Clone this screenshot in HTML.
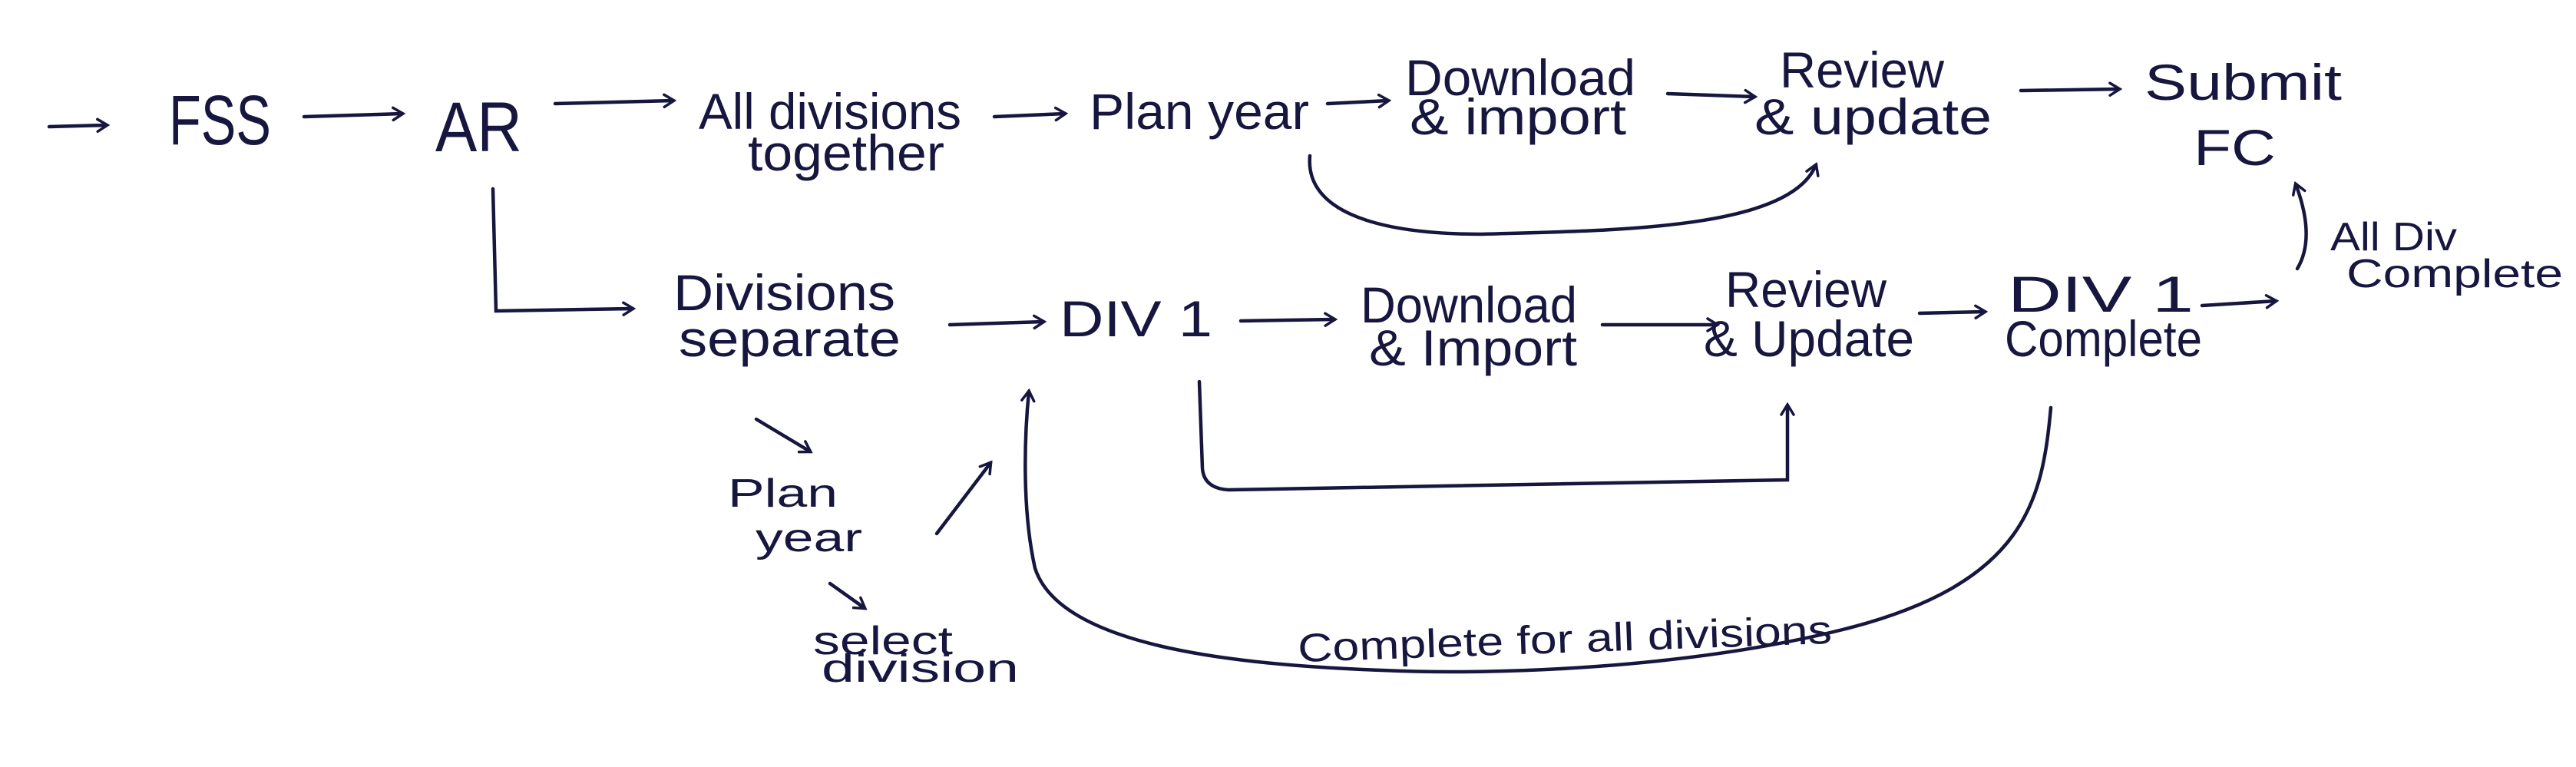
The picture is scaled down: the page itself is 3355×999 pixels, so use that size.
<!DOCTYPE html>
<html><head><meta charset="utf-8"><style>
html,body{margin:0;padding:0;background:#fff;}
svg{display:block}
text{font-family:"Liberation Sans",sans-serif;fill:#16163f;}
</style></head><body>
<svg width="3355" height="999" viewBox="0 0 3355 999" xmlns="http://www.w3.org/2000/svg">
<defs>
<marker id="a" viewBox="0 0 20 20" refX="16" refY="10" markerWidth="20" markerHeight="20" markerUnits="userSpaceOnUse" orient="auto">
<path d="M4,2 L17,10 L4,18" fill="none" stroke="#16163f" stroke-width="3.5" stroke-linecap="round"/>
</marker>
</defs>
<g fill="none" stroke="#16163f" stroke-width="4.5" stroke-linecap="round" marker-end="url(#a)">
<line x1="64" y1="165" x2="139" y2="163"/>
<line x1="396" y1="152" x2="524" y2="148"/>
<line x1="723" y1="135" x2="877" y2="131"/>
<line x1="1295" y1="152" x2="1387" y2="148"/>
<line x1="1729" y1="135" x2="1808" y2="131"/>
<line x1="2172" y1="122" x2="2285" y2="126"/>
<line x1="2632" y1="118" x2="2760" y2="116"/>
<path d="M1706,203 C1700,270 1780,305 1930,305 C2100,300 2330,300 2365,215"/>
<path d="M642,246 L646,405 L824,402"/>
<line x1="1237" y1="423" x2="1359" y2="419"/>
<line x1="1616" y1="418" x2="1738" y2="416"/>
<line x1="2087" y1="423" x2="2236" y2="423"/>
<line x1="2500" y1="408" x2="2585" y2="406"/>
<line x1="2868" y1="398" x2="2964" y2="392"/>
<path d="M2992,350 C3010,320 3005,280 2990,240"/>
<path d="M1562,497 L1566,610 Q1568,636 1600,638 L2328,625 L2328,528"/>
<path d="M2671,531 C2660,650 2640,760 2400,820 C2200,870 1950,880 1800,873 C1600,866 1380,840 1348,740 C1330,660 1335,560 1340,510"/>
<line x1="985" y1="546" x2="1055" y2="588"/>
<line x1="1081" y1="760" x2="1126" y2="792"/>
<line x1="1220" y1="695" x2="1290" y2="603"/>
</g>
<g font-size="92">
<text x="220" y="188" textLength="133" lengthAdjust="spacingAndGlyphs">FSS</text>
<text x="567" y="197" textLength="113" lengthAdjust="spacingAndGlyphs">AR</text>
</g>
<g font-size="66">
<text x="910" y="168" textLength="342" lengthAdjust="spacingAndGlyphs">All divisions</text>
<text x="974" y="222" textLength="256" lengthAdjust="spacingAndGlyphs">together</text>
<text x="1419" y="168" textLength="286" lengthAdjust="spacingAndGlyphs">Plan year</text>
<text x="1830" y="124" textLength="300" lengthAdjust="spacingAndGlyphs">Download</text>
<text x="1836" y="175" textLength="282" lengthAdjust="spacingAndGlyphs">&amp; import</text>
<text x="2318" y="114" textLength="214" lengthAdjust="spacingAndGlyphs">Review</text>
<text x="2285" y="175" textLength="309" lengthAdjust="spacingAndGlyphs">&amp; update</text>
<text x="2793" y="130" textLength="257" lengthAdjust="spacingAndGlyphs">Submit</text>
<text x="2857" y="215" textLength="107" lengthAdjust="spacingAndGlyphs">FC</text>
<text x="877" y="404" textLength="289" lengthAdjust="spacingAndGlyphs">Divisions</text>
<text x="884" y="464" textLength="289" lengthAdjust="spacingAndGlyphs">separate</text>
<text x="1380" y="438" textLength="199" lengthAdjust="spacingAndGlyphs">DIV 1</text>
<text x="1772" y="420" textLength="282" lengthAdjust="spacingAndGlyphs">Download</text>
<text x="1783" y="476" textLength="271" lengthAdjust="spacingAndGlyphs">&amp; Import</text>
<text x="2247" y="400" textLength="210" lengthAdjust="spacingAndGlyphs">Review</text>
<text x="2219" y="464" textLength="274" lengthAdjust="spacingAndGlyphs">&amp; Update</text>
<text x="2615" y="406" textLength="242" lengthAdjust="spacingAndGlyphs">DIV 1</text>
<text x="2611" y="464" textLength="257" lengthAdjust="spacingAndGlyphs">Complete</text>
</g>
<g font-size="52">
<text x="3035" y="326" textLength="165" lengthAdjust="spacingAndGlyphs">All Div</text>
<text x="3056" y="374" textLength="282" lengthAdjust="spacingAndGlyphs">Complete</text>
<text x="948" y="660" textLength="143" lengthAdjust="spacingAndGlyphs">Plan</text>
<text x="984" y="718" textLength="139" lengthAdjust="spacingAndGlyphs">year</text>
<text x="1059" y="852" textLength="182" lengthAdjust="spacingAndGlyphs">select</text>
<text x="1070" y="888" textLength="257" lengthAdjust="spacingAndGlyphs">division</text>
<text x="1690" y="850" textLength="696" lengthAdjust="spacingAndGlyphs" transform="rotate(-2 2038 832)">Complete for all divisions</text>
</g>
</svg>
</body></html>
